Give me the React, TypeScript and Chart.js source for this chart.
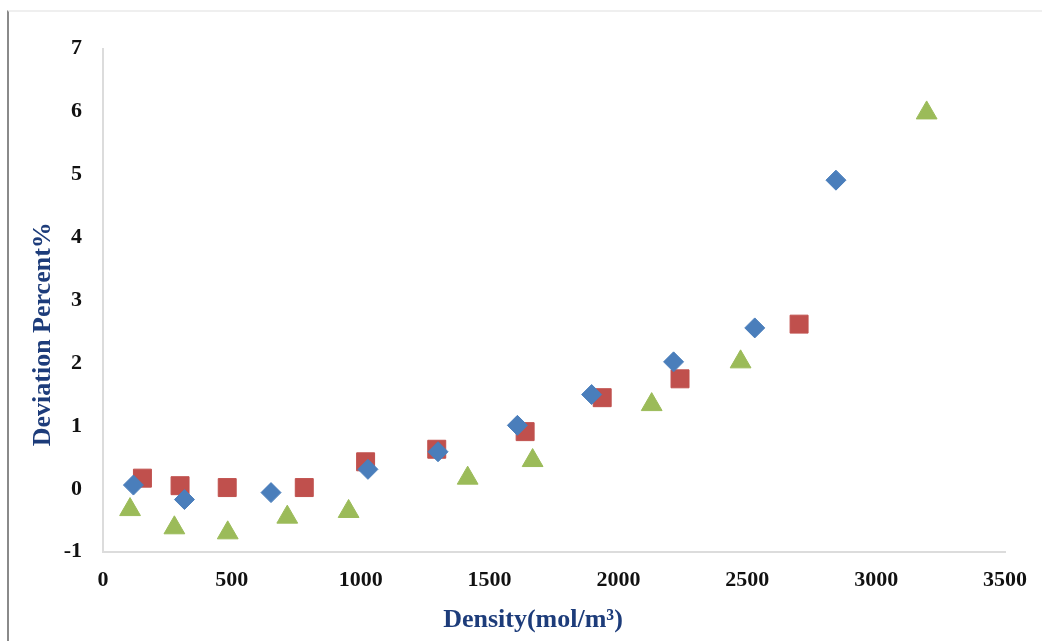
import React, { useEffect, useRef } from "react";
import { Chart, registerables } from "chart.js";

Chart.register(...registerables);

// Series: density (mol/m³) and deviation percent
const blueDensity = [118, 316, 652, 1028, 1300, 1608, 1896, 2214, 2529, 2844];
const blueDeviation = [0.06, -0.17, -0.06, 0.31, 0.59, 1.01, 1.5, 2.02, 2.56, 4.91];

const redDensity = [153, 299, 482, 781, 1019, 1295, 1638, 1937, 2239, 2701];
const redDeviation = [0.17, 0.05, 0.02, 0.02, 0.43, 0.63, 0.91, 1.45, 1.75, 2.62];

const greenDensity = [105, 277, 484, 715, 953, 1415, 1667, 2129, 2474, 3196];
const greenDeviation = [-0.33, -0.62, -0.7, -0.45, -0.36, 0.17, 0.45, 1.34, 2.02, 5.98];

const xTitle = "Density(mol/m³)";
const yTitle = "Deviation Percent%";

const xMin = 0;
const xMax = 3500;
const xStep = 500;
const yMin = -1;
const yMax = 7;
const yStep = 1;

const toPoints = (xs: number[], ys: number[]) => xs.map((x, i) => ({ x, y: ys[i] }));

const titleColor = "#1d3c7a";
const tickFont = { family: "'Liberation Serif', 'Times New Roman', serif", size: 22, weight: "bold" as const };

const axisTitlesPlugin = {
  id: "axisTitles",
  afterDraw(chart: any) {
    const { ctx, chartArea } = chart;
    const { left, right, top, bottom } = chartArea;
    ctx.save();
    ctx.fillStyle = titleColor;
    ctx.font = "bold 26px 'Liberation Serif', 'Times New Roman', serif";
    ctx.textAlign = "center";
    ctx.textBaseline = "middle";
    ctx.fillText(xTitle, (left + right) / 2 - 21, bottom + 69);
    ctx.translate(left - 60, (top + bottom) / 2 + 34);
    ctx.rotate(-Math.PI / 2);
    ctx.fillText(yTitle, 0, 0);
    ctx.restore();
  },
};

export default function App() {
  const canvasRef = useRef<HTMLCanvasElement | null>(null);

  useEffect(() => {
    if (!canvasRef.current) return;
    const chart = new Chart(canvasRef.current, {
      type: "scatter",
      data: {
        datasets: [
          {
            label: "Series 1",
            data: toPoints(blueDensity, blueDeviation),
            pointStyle: "rectRot",
            pointRadius: 10,
            backgroundColor: "#4a7ebb",
            borderColor: "#4a7ebb",
            borderWidth: 1,
          },
          {
            label: "Series 2",
            data: toPoints(redDensity, redDeviation),
            pointStyle: "rect",
            pointRadius: 12.7,
            backgroundColor: "#c0504d",
            borderColor: "#c0504d",
            borderWidth: 1,
          },
          {
            label: "Series 3",
            data: toPoints(greenDensity, greenDeviation),
            pointStyle: "triangle",
            pointRadius: 12,
            backgroundColor: "#9bbb59",
            borderColor: "#9bbb59",
            borderWidth: 1,
          },
        ],
      },
      options: {
        animation: false,
        responsive: false,
        devicePixelRatio: 1,
        layout: { padding: { left: 20, top: 48.8, right: 37, bottom: 29.3 } },
        plugins: { legend: { display: false }, tooltip: { enabled: false } },
        scales: {
          x: {
            type: "linear",
            min: xMin,
            max: xMax,
            ticks: {
              stepSize: xStep,
              color: "#111",
              font: tickFont,
              padding: 15,
              maxRotation: 0,
              callback: (v: any) => String(v),
            },
            grid: { display: true, drawOnChartArea: false, drawTicks: false, color: "transparent" },
            border: { display: true, color: "#dcdcdc", width: 2 },
            afterFit: (scale: any) => {
              scale.height = 60;
            },
          },
          y: {
            type: "linear",
            min: yMin,
            max: yMax,
            ticks: { stepSize: yStep, color: "#111", font: tickFont, padding: 21, callback: (v: any) => String(v) },
            grid: { display: true, drawOnChartArea: false, drawTicks: false, color: "transparent" },
            border: { display: true, color: "#dcdcdc", width: 2 },
            afterFit: (scale: any) => {
              scale.width = 83;
            },
          },
        },
      },
      plugins: [axisTitlesPlugin],
    });
    return () => chart.destroy();
  }, []);

  return (
    <div style={{ position: "absolute", left: 0, top: 0, width: 1042, height: 641, background: "#fff" }}>
      <div
        style={{
          position: "absolute",
          left: 7,
          top: 10,
          width: 1035,
          height: 631,
          borderLeft: "2px solid #8a8a8a",
          borderTop: "2px solid #efefef",
          boxSizing: "border-box",
        }}
      />
      <canvas
        ref={canvasRef}
        width={1042}
        height={641}
        style={{ position: "absolute", left: 0, top: 0, width: 1042, height: 641 }}
      />
    </div>
  );
}
